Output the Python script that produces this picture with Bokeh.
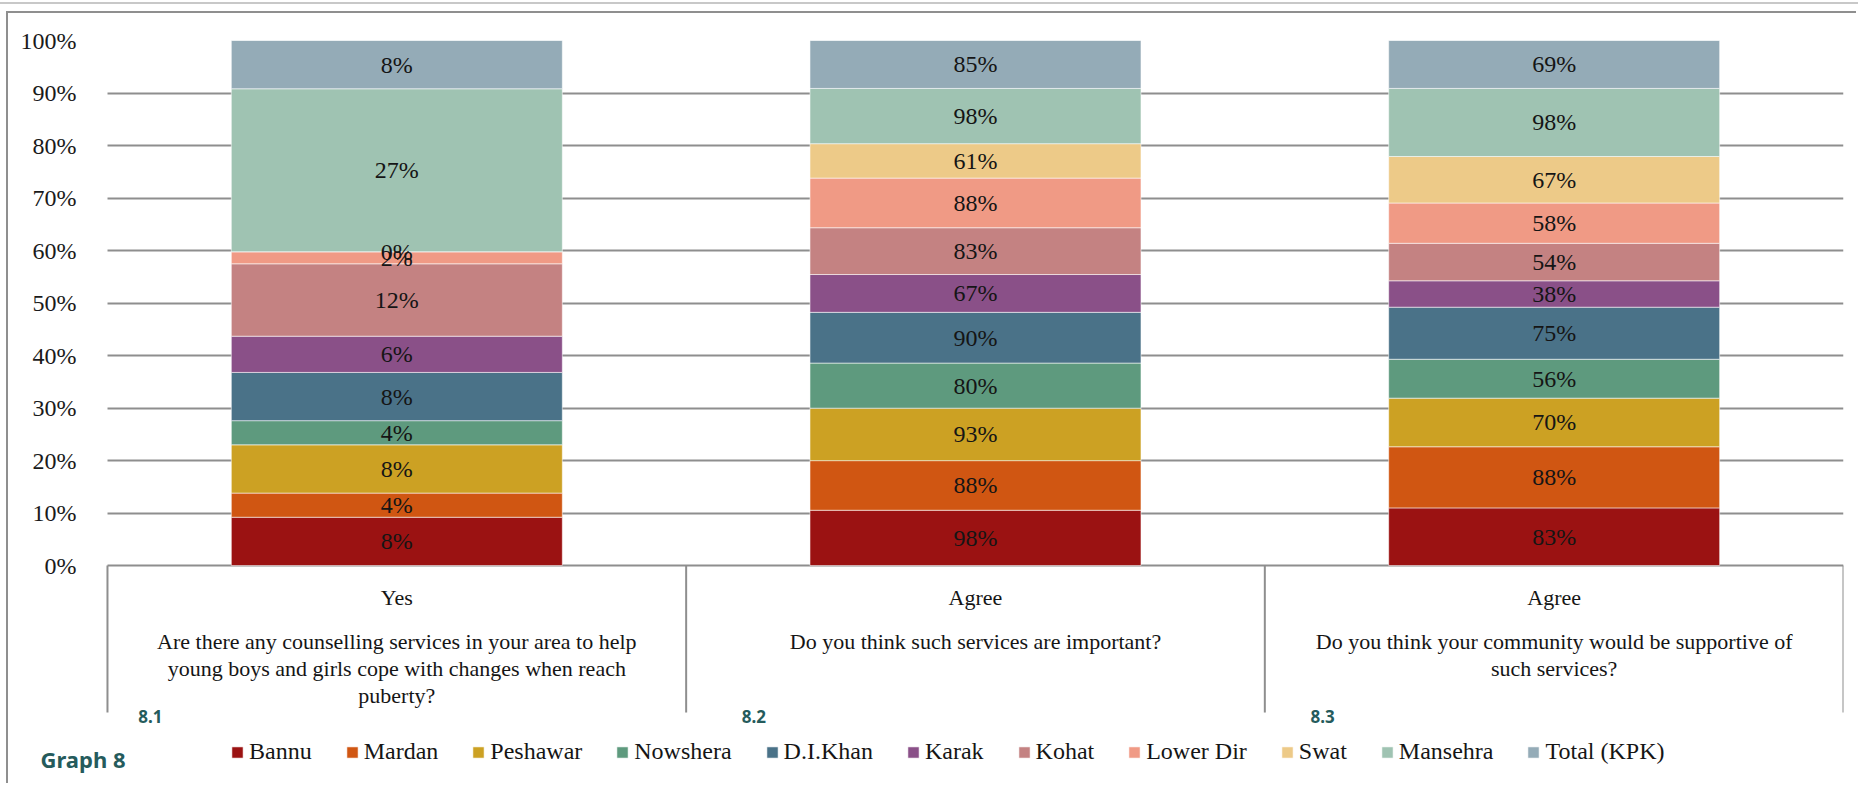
import pandas as pd
from bokeh.plotting import figure
from bokeh.models import ColumnDataSource, FixedTicker, NumeralTickFormatter, Range1d
from bokeh.core.properties import value
from bokeh.embed import file_html
from bokeh.resources import INLINE

# Survey items (Graph 8)
item_codes = ["8.1", "8.2", "8.3"]
answers = ["Yes", "Agree", "Agree"]
questions = [
    "Are there any counselling services in your area to help\nyoung boys and girls cope with changes when reach\npuberty?",
    "Do you think such services are important?",
    "Do you think your community would be supportive of\nsuch services?",
]

districts = ["Bannu", "Mardan", "Peshawar", "Nowshera", "D.I.Khan", "Karak",
             "Kohat", "Lower Dir", "Swat", "Mansehra", "Total (KPK)"]

# Share of respondents (%) per district, one value per item 8.1 / 8.2 / 8.3
bannu = [8, 98, 83]
mardan = [4, 88, 88]
peshawar = [8, 93, 70]
nowshera = [4, 80, 56]
di_khan = [8, 90, 75]
karak = [6, 67, 38]
kohat = [12, 83, 54]
lower_dir = [2, 88, 58]
swat = [0, 61, 67]
mansehra = [27, 98, 98]
total_kpk = [8, 85, 69]

series = [bannu, mardan, peshawar, nowshera, di_khan, karak,
          kohat, lower_dir, swat, mansehra, total_kpk]

colors = ["#9b1212", "#d05612", "#cca123", "#5e9a7e", "#4a7288", "#8a5088",
          "#c48282", "#f09a85", "#edca88", "#9fc3b2", "#94abb7"]

serif = "Liberation Serif"
teal = "#255b5c"

# 100% stacked layout: each segment is its value over the column total
keys = [f"s{i}" for i in range(len(districts))]
centers = [i + 0.5 for i in range(len(item_codes))]
df = pd.DataFrame({k: v for k, v in zip(keys, series)})
totals = df.sum(axis=1)
shares = df.div(totals, axis=0)
shares["x"] = centers
source = ColumnDataSource(shares)

# label positions at the middle of each segment
cum = shares[keys].cumsum(axis=1)
lab_x, lab_y, lab_t = [], [], []
for j, k in enumerate(keys):
    for i in range(len(item_codes)):
        top = cum.loc[i, k]
        lab_x.append(centers[i])
        lab_y.append(top - shares.loc[i, k] / 2)
        lab_t.append(f"{series[j][i]}%")
labels = ColumnDataSource(dict(x=lab_x, y=lab_y, t=lab_t))

ncat = len(item_codes)
p = figure(width=1850, height=772,
           x_range=Range1d(-0.1503, ncat), y_range=Range1d(-0.419, 1.0),
           output_backend="svg", toolbar_location=None, x_axis_location=None,
           min_border_left=12, min_border_right=15, min_border_top=27, min_border_bottom=0,
           outline_line_color=None,
           styles={"margin-left": "6px", "margin-top": "11px",
                   "border-left": "2px solid #8f8f8f", "border-top": "2px solid #8f8f8f",
                   "outline": "2px solid #c8c8c8", "outline-offset": "7px"})

p.vbar_stack(keys, x="x", width=0.572, source=source, fill_color=colors,
             line_color="white", line_alpha=0.55, line_width=1,
             legend_label=districts)

p.text(x="x", y="y", text="t", source=labels, text_align="center", text_baseline="middle",
       text_font=value(serif), text_font_size="24px", text_color="#151515")

# y axis (labels sit in the left margin of the frame) and grid
p.yaxis.ticker = FixedTicker(ticks=[i / 10 for i in range(11)])
p.yaxis.formatter = NumeralTickFormatter(format="0%")
p.yaxis.axis_line_color = None
p.yaxis.major_tick_line_color = None
p.yaxis.minor_tick_line_color = None
p.yaxis.major_label_standoff = -62
p.yaxis.major_label_text_font = serif
p.yaxis.major_label_text_font_size = "24px"
p.yaxis.major_label_text_color = "#1a1a1a"
p.xgrid.grid_line_color = None
p.ygrid.grid_line_color = "#8e8e8e"
p.ygrid.grid_line_width = 2
p.ygrid.cross_bounds = (0, ncat)

# category box below the bars
edges = list(range(ncat + 1))
p.segment(x0=edges, y0=[0] * len(edges), x1=edges, y1=[-0.28] * len(edges),
          line_color="#8e8e8e", line_width=2)
p.text(x=centers, y=[-0.061] * ncat, text=answers, text_align="center", text_baseline="middle",
       text_font=value(serif), text_font_size="22px", text_color="#151515")
p.text(x=centers, y=[-0.12] * ncat, text=questions, text_align="center", text_baseline="top",
       text_line_height=1.08, text_font=value(serif), text_font_size="22px", text_color="#151515")
p.text(x=[0.074, 1.117, 2.1], y=[-0.288] * ncat, text=item_codes, text_align="center",
       text_baseline="middle", text_font=value("Noto Sans"), text_font_style="bold",
       text_font_size="17px", text_color=teal)
p.text(x=[-0.1157], y=[-0.368], text=["Graph 8"], text_baseline="middle",
       text_font=value("Noto Sans"), text_font_style="bold", text_font_size="22px",
       text_color=teal)

lg = p.legend[0]
lg.orientation = "horizontal"
lg.location = (210, 20)
lg.glyph_width = 14
lg.glyph_height = 14
lg.label_standoff = 5
lg.spacing = 33
lg.padding = 0
lg.margin = 0
lg.border_line_color = None
lg.background_fill_alpha = 0
lg.label_text_font = serif
lg.label_text_font_size = "24px"
lg.label_text_color = "#151515"

open("out.html", "w").write(file_html(p, INLINE))
